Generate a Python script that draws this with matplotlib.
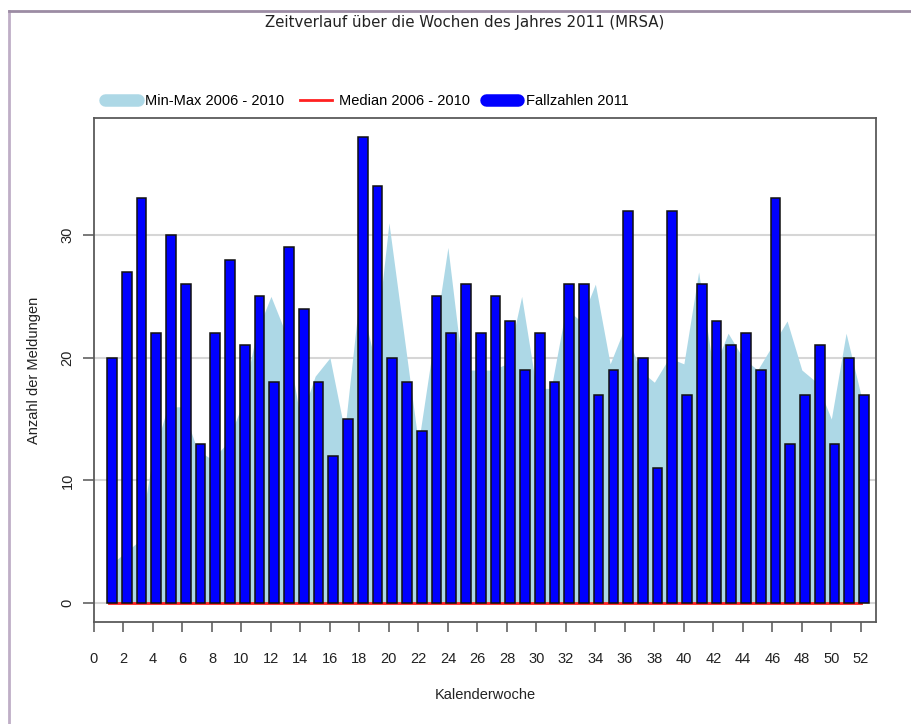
import numpy as np
import matplotlib
matplotlib.use("Agg")
import matplotlib.pyplot as plt
from matplotlib.lines import Line2D

plt.rcParams['font.family'] = ['Liberation Sans', 'DejaVu Sans']

# data
weeks = list(range(1, 53))
fallzahlen_2011 = [20, 27, 33, 22, 30, 26, 13, 22, 28, 21,
                   25, 18, 29, 24, 18, 12, 15, 38, 34, 20,
                   18, 14, 25, 22, 26, 22, 25, 23, 19, 22,
                   18, 26, 26, 17, 19, 32, 20, 11, 32, 17,
                   26, 23, 21, 22, 19, 33, 13, 17, 21, 13,
                   20, 17]
max_2006_2010 = [3, 4, 5, 12, 16, 16, 12.5, 11.7, 13, 16,
                 22, 25, 22, 15, 18.5, 20, 14, 25, 20, 31,
                 22, 13, 21, 29, 19, 19, 19, 19.5, 25, 17.5,
                 17.5, 24, 23, 26, 19.5, 22.5, 19, 18, 20, 19.5,
                 27, 19, 22, 20, 19, 21, 23, 19, 18, 15,
                 22, 17]
min_2006_2010 = [0] * 52     # flat at zero in the picture
median_2006_2010 = [0] * 52  # red line sits on zero

xticks = list(range(0, 53, 2))
yticks = [0, 10, 20, 30]

W, H = 911, 724
fig = plt.figure(figsize=(W / 100, H / 100), dpi=100)

# page frame (left and top edge)
fig.add_artist(Line2D([9 / W, 9 / W], [0, 1 - 11 / H], transform=fig.transFigure,
                      color='#bfaec6', lw=2))
fig.add_artist(Line2D([9 / W, 1], [1 - 11 / H, 1 - 11 / H], transform=fig.transFigure,
                      color='#9c8ca4', lw=2))

ax = fig.add_axes([94 / W, 1 - 621.7 / H, (876.3 - 94) / W, (621.7 - 118.3) / H])

bar_shift = 0.22
xb = np.array(weeks) + bar_shift

for y in yticks:
    ax.axhline(y, color='#d6d6d6', lw=1.5, zorder=0)

ax.fill_between(weeks, min_2006_2010, max_2006_2010, color='#add8e6', lw=0, zorder=1)
ax.plot(weeks, median_2006_2010, color='#ff2020', lw=2, zorder=2)
ax.bar(xb, fallzahlen_2011, width=0.66, color='#0000ff', edgecolor='#111111',
       linewidth=1.1, zorder=3)

ax.set_xlim(0, 53.05)
ax.set_ylim(-1.52, 39.52)

ax.set_xticks(xticks)
ax.set_xticklabels([str(t) for t in xticks], fontsize=10.5, color='#222222')
ax.set_yticks(yticks)
ax.set_yticklabels([str(t) for t in yticks], fontsize=10.5, color='#222222',
                   rotation=90, va='center')
ax.tick_params(axis='x', direction='out', length=7.5, width=1.1, color='#555555', pad=14)
ax.tick_params(axis='y', direction='out', length=8, width=1.1, color='#555555', pad=6)

for s in ax.spines.values():
    s.set_color('#5a5a5a')
    s.set_linewidth(1.3)

ax.set_xlabel('Kalenderwoche', fontsize=10.5, color='#222222', labelpad=16)
ax.set_ylabel('Anzahl der Meldungen', fontsize=10.5, color='#222222', labelpad=14)

fig.text(465 / W, 1 - 23 / H, 'Zeitverlauf über die Wochen des Jahres 2011 (MRSA)',
         ha='center', va='center', fontsize=10.8, family=['DejaVu Sans'], color='#222222')

handles = [
    Line2D([], [], color='#add8e6', lw=9, solid_capstyle='round'),
    Line2D([], [], color='#ff2020', lw=2),
    Line2D([], [], color='#0000ff', lw=9, solid_capstyle='round'),
]
labels = ['Min-Max 2006 - 2010', 'Median 2006 - 2010', 'Fallzahlen 2011']
fig.legend(handles, labels, loc='center', bbox_to_anchor=(367 / W, 1 - 101 / H),
           ncol=3, frameon=False, fontsize=10.5, handlelength=2.2, handletextpad=0.5,
           columnspacing=1.1)

fig.savefig('out.png', dpi=100)
